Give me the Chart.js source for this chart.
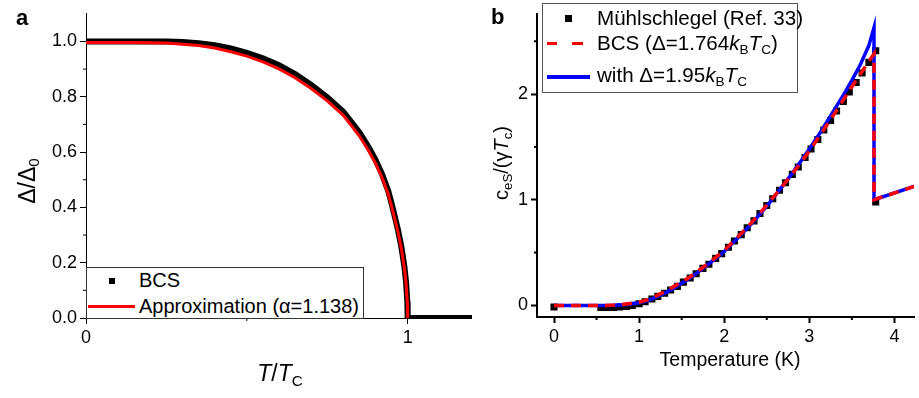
<!DOCTYPE html>
<html>
<head>
<meta charset="utf-8">
<script src="https://cdn.jsdelivr.net/npm/chart.js@4.4.0/dist/chart.umd.min.js"></script>
<style>
body{margin:0;background:#fff;width:919px;height:398px;position:relative;overflow:hidden;font-family:"Liberation Sans",Arial,sans-serif;color:#000}
canvas{position:absolute;top:0}
#ca{left:0}
#cb{left:460px}
.t{position:absolute;white-space:nowrap;line-height:1}
.c{transform:translateX(-50%)}
.rot{position:absolute;white-space:nowrap;line-height:1;transform:translate(-50%,-50%) rotate(-90deg)}
.box{position:absolute;background:#fff;box-sizing:border-box}
.sw{position:absolute}
sub{font-size:0.66em;vertical-align:-0.32em;line-height:0}
</style>
</head>
<body>
<canvas id="ca" width="472" height="398"></canvas>
<canvas id="cb" width="459" height="398"></canvas>

<!-- panel letters -->
<div class="t" style="left:16px;top:7px;font-size:22px;font-weight:bold">a</div>
<div class="t" style="left:491px;top:6px;font-size:22px;font-weight:bold">b</div>

<!-- axis titles -->
<div class="rot" style="left:27px;top:181px;font-size:23px">&Delta;/&Delta;<sub>0</sub></div>
<div class="t c" style="left:280px;top:362px;font-size:23px"><i>T</i>/<i>T</i><sub>C</sub></div>
<div class="rot" style="left:501px;top:163px;font-size:20px">c<sub>eS</sub>/(&gamma;<i>T</i><sub>c</sub>)</div>
<div class="t c" style="left:730px;top:350px;font-size:19.5px">Temperature (K)</div>

<!-- legend a -->
<div class="box" style="left:86px;top:267px;width:278px;height:52px;border:1px solid #333"></div>
<div class="sw" style="left:109px;top:278px;width:6px;height:6px;background:#000"></div>
<div class="sw" style="left:88px;top:305px;width:47px;height:3px;background:#ff0000"></div>
<div class="t" style="left:139px;top:270px;font-size:20px">BCS</div>
<div class="t" style="left:139px;top:296px;font-size:20px">Approximation (&alpha;=1.138)</div>

<!-- legend b -->
<div class="box" style="left:542px;top:3px;width:256px;height:90px;border:1px solid #555"></div>
<div class="sw" style="left:565px;top:15px;width:7px;height:7px;background:#000"></div>
<div class="sw" style="left:547px;top:42px;width:10px;height:3px;background:#ff0000"></div>
<div class="sw" style="left:572px;top:42px;width:11px;height:3px;background:#ff0000"></div>
<div class="sw" style="left:547px;top:75px;width:43px;height:4px;background:#0000ff"></div>
<div class="t" style="left:597px;top:8px;font-size:20.6px">Mühlschlegel (Ref. 33)</div>
<div class="t" style="left:597px;top:33px;font-size:20.6px">BCS (&Delta;=1.764<i>k</i><sub>B</sub><i>T</i><sub>C</sub>)</div>
<div class="t" style="left:597px;top:65px;font-size:20.6px">with &Delta;=1.95<i>k</i><sub>B</sub><i>T</i><sub>C</sub></div>

<script>
// ---- panel a: gap vs T/Tc ----
const tBCS = [0, 0.05, 0.1, 0.15, 0.2, 0.25, 0.3, 0.35, 0.4, 0.45, 0.5, 0.55, 0.6, 0.65, 0.7, 0.75, 0.8, 0.85, 0.88, 0.9, 0.92, 0.94, 0.95, 0.96, 0.97, 0.98, 0.99, 0.995, 0.999, 1.0, 1.2];
const gapBCS = [1, 1, 1, 1, 1, 0.9999, 0.998, 0.994, 0.986, 0.975, 0.959, 0.939, 0.914, 0.882, 0.843, 0.798, 0.746, 0.671, 0.615, 0.572, 0.521, 0.458, 0.414, 0.367, 0.318, 0.26, 0.184, 0.13, 0.058, 0, 0];
const tApprox = [0, 0.05, 0.1, 0.15, 0.2, 0.25, 0.3, 0.35, 0.4, 0.45, 0.5, 0.55, 0.6, 0.65, 0.7, 0.75, 0.8, 0.85, 0.88, 0.9, 0.92, 0.94, 0.95, 0.96, 0.97, 0.98, 0.99, 0.995, 0.999, 1.0];
const gapApprox = [0.996, 0.996, 0.996, 0.996, 0.995, 0.994, 0.99, 0.985, 0.976, 0.963, 0.947, 0.926, 0.901, 0.869, 0.83, 0.785, 0.733, 0.658, 0.602, 0.559, 0.509, 0.447, 0.404, 0.358, 0.31, 0.253, 0.179, 0.126, 0.056, 0];
const xTicksA = [0, 1];
const xMinorA = [0.5];
const yTicksA = [0, 0.2, 0.4, 0.6, 0.8, 1.0];
const yMinorA = [0.1, 0.3, 0.5, 0.7, 0.9];

// ---- panel b: specific heat ----
const tempLine = [0, 0.1, 0.2, 0.3, 0.4, 0.5, 0.6, 0.7, 0.8, 0.9, 1.0, 1.1, 1.2, 1.3, 1.4, 1.5, 1.6, 1.7, 1.8, 1.9, 2.0, 2.1, 2.2, 2.3, 2.4, 2.5, 2.6, 2.7, 2.8, 2.9, 3.0, 3.1, 3.2, 3.3, 3.4, 3.5, 3.6, 3.7, 3.76, 3.76, 4.23];
const cBCS = [0, 0, 0, 0, 0, 0, 0, 0.003, 0.008, 0.017, 0.03, 0.055, 0.09, 0.13, 0.175, 0.22, 0.27, 0.33, 0.39, 0.455, 0.52, 0.6, 0.68, 0.765, 0.855, 0.95, 1.045, 1.145, 1.245, 1.35, 1.46, 1.58, 1.7, 1.82, 1.945, 2.07, 2.19, 2.31, 2.38, 1.0, 1.125];
const cFit = [0, 0, 0, 0, 0, 0, 0, 0.002, 0.006, 0.013, 0.025, 0.045, 0.077, 0.115, 0.16, 0.21, 0.26, 0.32, 0.38, 0.445, 0.51, 0.59, 0.67, 0.755, 0.845, 0.94, 1.04, 1.145, 1.25, 1.365, 1.48, 1.6, 1.73, 1.86, 1.99, 2.13, 2.28, 2.46, 2.63, 1.0, 1.125];
const tempM = [0, 0.55, 0.62, 0.70, 0.77, 0.85, 0.92, 1.00, 1.07, 1.15, 1.22, 1.30, 1.37, 1.45, 1.52, 1.60, 1.67, 1.75, 1.82, 1.90, 1.97, 2.05, 2.12, 2.20, 2.27, 2.35, 2.42, 2.50, 2.57, 2.65, 2.72, 2.80, 2.87, 2.95, 3.02, 3.10, 3.17, 3.25, 3.32, 3.40, 3.47, 3.55, 3.62, 3.70, 3.78, 3.78];
const cM = [-0.015, -0.02, -0.02, -0.02, -0.015, -0.01, 0.0, 0.015, 0.035, 0.06, 0.085, 0.115, 0.145, 0.18, 0.22, 0.26, 0.30, 0.35, 0.39, 0.445, 0.49, 0.55, 0.61, 0.67, 0.735, 0.80, 0.87, 0.945, 1.01, 1.09, 1.16, 1.24, 1.31, 1.40, 1.48, 1.57, 1.66, 1.75, 1.84, 1.93, 2.02, 2.11, 2.20, 2.30, 2.41, 0.98];
const xTicksB = [0, 1, 2, 3, 4];
const xMinorB = [0.5, 1.5, 2.5, 3.5];
const yTicksB = [0, 1, 2];
const yMinorB = [0.5, 1.5, 2.5];

Chart.defaults.font.family = "'Liberation Sans', Arial, sans-serif";
Chart.defaults.font.size = 18;
Chart.defaults.color = '#000';

function pts(xs, ys) {
    return xs.map((x, i) => ({x: x, y: ys[i]}));
}

// small ticks between the labelled ones
const minorTicks = {
    id: 'minorTicks',
    afterDraw(chart, args, opts) {
        const ctx = chart.ctx;
        const a = chart.chartArea;
        ctx.save();
        ctx.strokeStyle = '#000';
        ctx.lineWidth = opts.width;
        opts.x.forEach(v => {
            const px = chart.scales.x.getPixelForValue(v);
            ctx.beginPath();
            ctx.moveTo(px, a.bottom);
            ctx.lineTo(px, a.bottom + opts.len);
            ctx.stroke();
        });
        opts.y.forEach(v => {
            const py = chart.scales.y.getPixelForValue(v);
            ctx.beginPath();
            ctx.moveTo(a.left, py);
            ctx.lineTo(a.left - opts.len, py);
            ctx.stroke();
        });
        ctx.restore();
    }
};

function axis(min, max, ticks, size, horiz, lw, fmt) {
    return {
        type: 'linear',
        min: min,
        max: max,
        afterBuildTicks: s => { s.ticks = ticks.map(v => ({value: v})); },
        afterFit: s => { if (horiz) s.height = size; else s.width = size; },
        border: {display: true, color: '#000', width: lw},
        grid: {drawOnChartArea: false, drawTicks: true, tickLength: 6, tickColor: '#000', tickWidth: lw},
        ticks: {padding: 3, maxRotation: 0, autoSkip: false, callback: fmt}
    };
}

new Chart(document.getElementById('ca'), {
    type: 'scatter',
    data: {
        datasets: [
            {
                label: 'Approximation',
                data: pts(tApprox, gapApprox),
                showLine: true,
                borderColor: '#ff0000',
                borderWidth: 3,
                pointRadius: 0
            },
            {
                label: 'BCS',
                data: pts(tBCS, gapBCS),
                showLine: true,
                borderColor: '#000',
                borderWidth: 6,
                pointRadius: 0
            }
        ]
    },
    options: {
        responsive: false,
        animation: false,
        layout: {padding: {top: 5, right: 0, left: 0, bottom: 0}},
        scales: {
            x: axis(0, 1.2, xTicksA, 80, true, 1, v => String(v)),
            y: axis(0, 1.1, yTicksA, 86, false, 1, v => v.toFixed(1))
        },
        plugins: {
            legend: {display: false},
            tooltip: {enabled: false},
            minorTicks: {x: xMinorA, y: yMinorA, len: 3, width: 1}
        }
    },
    plugins: [minorTicks]
});

new Chart(document.getElementById('cb'), {
    type: 'scatter',
    data: {
        datasets: [
            {
                label: 'BCS',
                data: pts(tempLine, cBCS),
                showLine: true,
                borderColor: '#ff0000',
                borderWidth: 3.5,
                borderDash: [10, 7],
                pointRadius: 0
            },
            {
                label: 'with 1.95',
                data: pts(tempLine, cFit),
                showLine: true,
                borderColor: '#0000ff',
                borderWidth: 3.5,
                pointRadius: 0
            },
            {
                label: 'Mühlschlegel',
                data: pts(tempM, cM),
                pointStyle: 'rect',
                pointRadius: 5,
                backgroundColor: '#000',
                borderWidth: 0
            }
        ]
    },
    options: {
        responsive: false,
        animation: false,
        layout: {padding: {top: 5, right: 0, left: 0, bottom: 0}},
        scales: {
            x: axis(-0.2, 4.23, xTicksB, 81, true, 2, v => String(v)),
            y: axis(-0.11, 2.76, yTicksB, 77, false, 2, v => String(v))
        },
        plugins: {
            legend: {display: false},
            tooltip: {enabled: false},
            minorTicks: {x: xMinorB, y: yMinorB, len: 3, width: 2}
        }
    },
    plugins: [minorTicks]
});
</script>
</body>
</html>
